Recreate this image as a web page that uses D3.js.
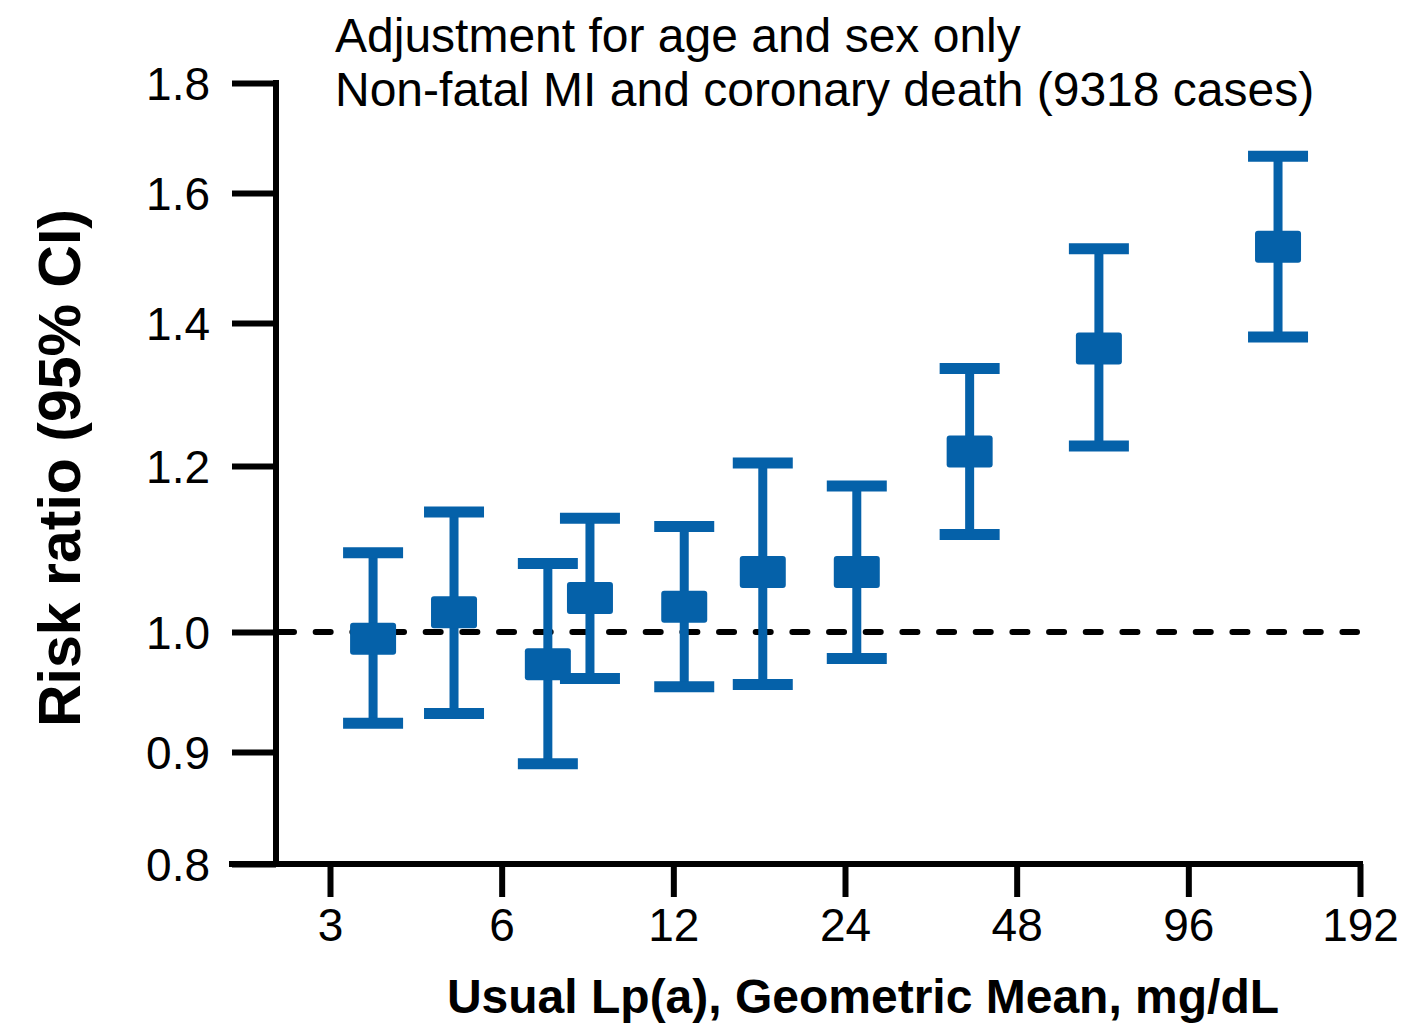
<!DOCTYPE html>
<html>
<head>
<meta charset="utf-8">
<script src="https://cdn.jsdelivr.net/npm/d3@7/dist/d3.min.js"></script>
<style>
  html, body { margin: 0; padding: 0; background: #ffffff; }
  svg { display: block; font-family: "Liberation Sans", Arial, Helvetica, sans-serif; }
</style>
</head>
<body>
<svg id="chart" width="1408" height="1025"></svg>
<script>
// ---- data ----
const lpa   = [3.57, 4.95, 7.23, 8.57, 12.54, 17.22, 25.17, 39.7, 66.9, 137.9];
const rr    = [0.994, 1.022, 0.972, 1.038, 1.028, 1.068, 1.068, 1.219, 1.362, 1.514];
const lower = [0.923, 0.931, 0.889, 0.960, 0.953, 0.955, 0.977, 1.113, 1.226, 1.379];
const upper = [1.091, 1.141, 1.078, 1.133, 1.123, 1.204, 1.174, 1.333, 1.511, 1.664];
const yTicks = [0.8, 0.9, 1.0, 1.2, 1.4, 1.6, 1.8];
const xTicks = [3, 6, 12, 24, 48, 96, 192];
const titleLines = ["Adjustment for age and sex only", "Non-fatal MI and coronary death (9318 cases)"];
const yTitle = "Risk ratio (95% CI)";
const xTitle = "Usual Lp(a), Geometric Mean, mg/dL";

// ---- layout ----
const blue = "#0561a9";
const axisX = 276;
const yTickPos = [864, 752, 632, 466, 323, 193, 83]; // axis layout of the original (irregular log axis)

const svg = d3.select("#chart");

const y = d3.scaleLog().domain(yTicks).range(yTickPos);
const x = d3.scaleLog().base(2).domain([3, 192]).range([330, 1360]);

const y0 = y(0.8);

// y axis
const gy = svg.append("g").attr("transform", `translate(${axisX},0)`)
  .call(d3.axisLeft(y).tickValues(yTicks).tickSize(44).tickPadding(22).tickSizeOuter(0)
    .tickFormat(d3.format(".1f")));
gy.select(".domain").remove();
gy.selectAll(".tick line").attr("stroke", "#000").attr("stroke-width", 6);
gy.selectAll(".tick text").attr("font-size", 46).attr("fill", "#000").attr("dy", "0.36em");

// x axis
const gx = svg.append("g").attr("transform", `translate(0,${y0})`)
  .call(d3.axisBottom(x).tickValues(xTicks).tickSize(33).tickPadding(10).tickSizeOuter(0)
    .tickFormat(d3.format("d")));
gx.select(".domain").remove();
gx.selectAll(".tick line").attr("stroke", "#000").attr("stroke-width", 6);
gx.selectAll(".tick text").attr("font-size", 46).attr("fill", "#000").attr("dy", "0.74em");

// axis lines
svg.append("line")
  .attr("x1", axisX).attr("x2", axisX)
  .attr("y1", y(1.8) - 3).attr("y2", y0)
  .attr("stroke", "#000").attr("stroke-width", 6);
svg.append("line")
  .attr("x1", 229).attr("x2", x(192) + 3)
  .attr("y1", y0).attr("y2", y0)
  .attr("stroke", "#000").attr("stroke-width", 6);

// reference line at 1.0
svg.append("line")
  .attr("x1", axisX + 3).attr("x2", x(192) - 3)
  .attr("y1", y(1.0)).attr("y2", y(1.0))
  .attr("stroke", "#000").attr("stroke-width", 6)
  .attr("stroke-linecap", "round")
  .attr("stroke-dasharray", "15,21.67");

// error bars and markers
const pts = lpa.map((v, i) => ({ x: v, m: rr[i], lo: lower[i], hi: upper[i] }));
const g = svg.append("g");
const capW = 60, boxW = 46, boxH = 32;

g.selectAll(".stem").data(pts).join("line")
  .attr("x1", d => x(d.x)).attr("x2", d => x(d.x))
  .attr("y1", d => y(d.hi)).attr("y2", d => y(d.lo))
  .attr("stroke", blue).attr("stroke-width", 9);

g.selectAll(".capHi").data(pts).join("line")
  .attr("x1", d => x(d.x) - capW / 2).attr("x2", d => x(d.x) + capW / 2)
  .attr("y1", d => y(d.hi)).attr("y2", d => y(d.hi))
  .attr("stroke", blue).attr("stroke-width", 11);

g.selectAll(".capLo").data(pts).join("line")
  .attr("x1", d => x(d.x) - capW / 2).attr("x2", d => x(d.x) + capW / 2)
  .attr("y1", d => y(d.lo)).attr("y2", d => y(d.lo))
  .attr("stroke", blue).attr("stroke-width", 11);

g.selectAll(".box").data(pts).join("rect")
  .attr("x", d => x(d.x) - boxW / 2).attr("y", d => y(d.m) - boxH / 2)
  .attr("width", boxW).attr("height", boxH).attr("rx", 3)
  .attr("fill", blue);

// titles
svg.selectAll(".title").data(titleLines).join("text")
  .attr("x", 335).attr("y", (d, i) => 52 + i * 54)
  .attr("font-size", 48).attr("fill", "#000")
  .text(d => d);

svg.append("text")
  .attr("transform", `translate(80,${468}) rotate(-90)`)
  .attr("text-anchor", "middle")
  .attr("font-size", 59).attr("font-weight", "bold").attr("fill", "#000")
  .text(yTitle);

svg.append("text")
  .attr("x", 863).attr("y", 1013)
  .attr("text-anchor", "middle")
  .attr("font-size", 48).attr("font-weight", "bold").attr("fill", "#000")
  .text(xTitle);
</script>
</body>
</html>
